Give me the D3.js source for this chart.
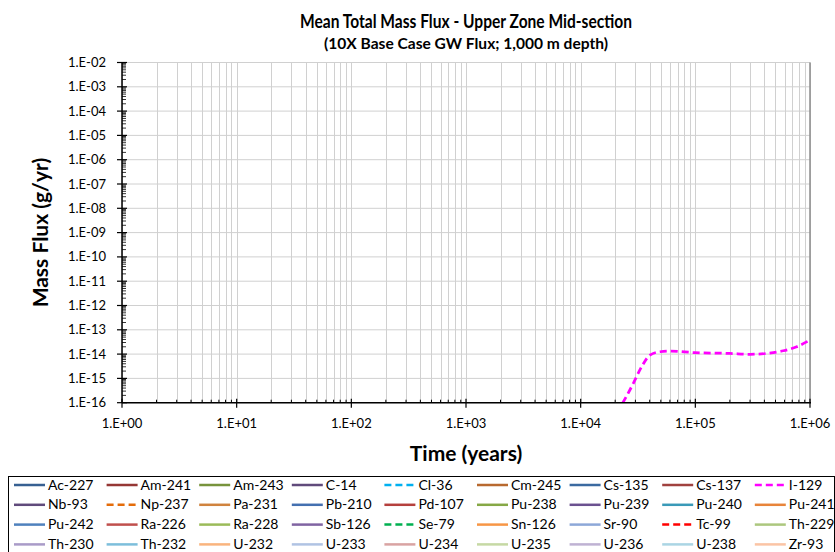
<!DOCTYPE html>
<html>
<head>
<meta charset="utf-8">
<script src="https://cdn.jsdelivr.net/npm/d3@7"></script>
<style>
  body { margin: 0; background: #fff; }
  svg { display: block; font-family: Lato, "Open Sans", sans-serif; }
</style>
</head>
<body>
<script>
(function(){
'use strict';

// ---- data ----
var isotopes = ['Ac-227', 'Am-241', 'Am-243', 'C-14', 'Cl-36', 'Cm-245', 'Cs-135', 'Cs-137', 'I-129',
                'Nb-93', 'Np-237', 'Pa-231', 'Pb-210', 'Pd-107', 'Pu-238', 'Pu-239', 'Pu-240', 'Pu-241',
                'Pu-242', 'Ra-226', 'Ra-228', 'Sb-126', 'Se-79', 'Sn-126', 'Sr-90', 'Tc-99', 'Th-229',
                'Th-230', 'Th-232', 'U-232', 'U-233', 'U-234', 'U-235', 'U-236', 'U-238', 'Zr-93'];

var colors = ['#376092', '#953735', '#77933C', '#604A7B', '#00B0F0', '#B8692F', '#3B6AA0', '#A0413F', '#FF00FF',
              '#604A7B', '#E46C0A', '#D0833E', '#4470B0', '#B5403D', '#86A846', '#6B5190', '#3A9AB8', '#E8843A',
              '#4F81BD', '#C0504D', '#9BBB59', '#8064A2', '#00B050', '#F79646', '#8DA8D8', '#FF0000', '#ACC77E',
              '#A99BC8', '#7DBEDB', '#F9B47E', '#B0C3E3', '#D9A3A2', '#C6D9A4', '#BFB2D3', '#ABD5E4', '#FBC4A5'];

var dashedSeries = ['Cl-36', 'I-129', 'Np-237', 'Se-79', 'Tc-99'];

// I-129 is the only series above 1E-16 in the plotted range
var i129Time = [23200, 25500, 28800, 34000, 40200, 49200, 60100, 99300, 200000, 300000, 419000, 585000, 766000, 1000000];
var i129Flux = [0.95e-16, 2.1e-16, 6.3e-16, 3.0e-15, 9.1e-15, 1.25e-14, 1.34e-14, 1.15e-14, 1.07e-14, 9.8e-15, 1.07e-14, 1.37e-14, 2.0e-14, 3.8e-14];

var xDecades = [1e0, 1e1, 1e2, 1e3, 1e4, 1e5, 1e6];
var yDecades = [1e-16, 1e-15, 1e-14, 1e-13, 1e-12, 1e-11, 1e-10, 1e-9, 1e-8, 1e-7, 1e-6, 1e-5, 1e-4, 1e-3, 1e-2];

// ---- layout ----
var width = 835;
var height = 552;
var left = 122, right = 810, top = 62.5, bottom = 402.7;

var svg = d3.select('body').append('svg')
            .attr('width', width)
            .attr('height', height);

var x = d3.scaleLog().domain([1, 1e6]).range([left, right]);
var y = d3.scaleLog().domain([1e-16, 1e-2]).range([bottom, top]);

function fmt(v){
	var e = Math.round(Math.log10(v));
	var s = Math.abs(e) < 10 ? '0' + Math.abs(e) : '' + Math.abs(e);
	return '1.E' + (e < 0 ? '-' : '+') + s;
}

var minors = [];
for(var n=0; n<6; n++){
	for(var k=2; k<10; k++){
		minors.push(k * Math.pow(10, n));
	}
}
var yMinors = [];
for(var m=-16; m<-2; m++){
	for(var q=2; q<10; q++){
		yMinors.push(q * Math.pow(10, m));
	}
}

// gridlines
var grid = svg.append('g').attr('stroke', '#D0D0D0').attr('stroke-width', 1);
grid.selectAll('line.v')
	.data(xDecades.concat(minors))
	.enter().append('line')
	.attr('x1', function(d){ return Math.round(x(d)) + 0.5; })
	.attr('x2', function(d){ return Math.round(x(d)) + 0.5; })
	.attr('y1', top).attr('y2', bottom);
grid.selectAll('line.h')
	.data(yDecades)
	.enter().append('line')
	.attr('x1', left).attr('x2', right)
	.attr('y1', function(d){ return y(d); })
	.attr('y2', function(d){ return y(d); });

svg.append('line')
	.attr('x1', right).attr('x2', right)
	.attr('y1', top).attr('y2', bottom)
	.attr('stroke', '#8C8C8C').attr('stroke-width', 1.5);

// series
svg.append('clipPath').attr('id', 'plot')
	.append('rect').attr('x', left).attr('y', top)
	.attr('width', right - left).attr('height', bottom - top);

var line = d3.line()
	.x(function(d){ return x(d[0]); })
	.y(function(d){ return y(d[1]); })
	.curve(d3.curveMonotoneX);

svg.append('path')
	.datum(d3.zip(i129Time, i129Flux))
	.attr('clip-path', 'url(#plot)')
	.attr('fill', 'none')
	.attr('stroke', colors[isotopes.indexOf('I-129')])
	.attr('stroke-width', 2.75)
	.attr('stroke-dasharray', '7,4')
	.attr('d', line);

// axes
var ax = svg.append('g').attr('stroke', '#000');
ax.append('line').attr('x1', left).attr('x2', right + 1).attr('y1', bottom).attr('y2', bottom).attr('stroke-width', 1.5);
ax.append('line').attr('x1', left).attr('x2', left).attr('y1', top).attr('y2', bottom).attr('stroke-width', 1.5);

ax.selectAll('line.xt')
	.data(xDecades)
	.enter().append('line')
	.attr('x1', function(d){ return x(d); })
	.attr('x2', function(d){ return x(d); })
	.attr('y1', bottom - 4).attr('y2', bottom + 5)
	.attr('stroke-width', 1.2);
ax.selectAll('line.xm')
	.data(minors)
	.enter().append('line')
	.attr('x1', function(d){ return x(d); })
	.attr('x2', function(d){ return x(d); })
	.attr('y1', bottom - 3).attr('y2', bottom)
	.attr('stroke-width', 1);
ax.selectAll('line.yt')
	.data(yDecades)
	.enter().append('line')
	.attr('x1', left - 5).attr('x2', left + 5)
	.attr('y1', function(d){ return y(d); })
	.attr('y2', function(d){ return y(d); })
	.attr('stroke-width', 1.2);
ax.selectAll('line.ym')
	.data(yMinors)
	.enter().append('line')
	.attr('x1', left).attr('x2', left + 4)
	.attr('y1', function(d){ return y(d); })
	.attr('y2', function(d){ return y(d); })
	.attr('stroke-width', 0.8);

svg.append('g').selectAll('text')
	.data(yDecades)
	.enter().append('text')
	.attr('x', 106)
	.attr('y', function(d){ return y(d) + 4.5; })
	.attr('text-anchor', 'end')
	.attr('font-size', 13)
	.attr('fill', '#000')
	.text(fmt);

svg.append('g').selectAll('text')
	.data(xDecades)
	.enter().append('text')
	.attr('x', function(d){ return x(d); })
	.attr('y', 428)
	.attr('text-anchor', 'middle')
	.attr('font-size', 13)
	.attr('fill', '#000')
	.text(fmt);

// titles
var cx = (left + right) / 2;
svg.append('text').attr('x', cx).attr('y', 28).attr('text-anchor', 'middle')
	.attr('font-size', 18.5).attr('font-weight', 'bold')
	.attr('textLength', 332).attr('lengthAdjust', 'spacingAndGlyphs')
	.text('Mean Total Mass Flux - Upper Zone Mid-section');
svg.append('text').attr('x', cx).attr('y', 49).attr('text-anchor', 'middle')
	.attr('font-size', 15.5).attr('font-weight', 'bold')
	.attr('textLength', 284).attr('lengthAdjust', 'spacingAndGlyphs')
	.text('(10X Base Case GW Flux; 1,000 m depth)');
svg.append('text').attr('x', cx).attr('y', 461).attr('text-anchor', 'middle')
	.attr('font-size', 21).attr('font-weight', 'bold')
	.text('Time (years)');
svg.append('text')
	.attr('transform', 'translate(48,' + ((top + bottom) / 2) + ') rotate(-90)')
	.attr('text-anchor', 'middle')
	.attr('font-size', 21).attr('font-weight', 'bold')
	.text('Mass Flux (g/yr)');

// legend
svg.append('rect')
	.attr('x', 8.5).attr('y', 476.5)
	.attr('width', 826).attr('height', 90)
	.attr('fill', 'none').attr('stroke', '#000').attr('stroke-width', 1);

var items = svg.append('g').selectAll('g')
	.data(isotopes)
	.enter().append('g')
	.attr('transform', function(d, i){
		return 'translate(' + (14 + (i % 9) * 92.6) + ',' + (485 + Math.floor(i / 9) * 19.8) + ')';
	});

items.append('line')
	.attr('x1', 0).attr('x2', 31)
	.attr('stroke', function(d, i){ return colors[i]; })
	.attr('stroke-width', 2.5)
	.attr('stroke-dasharray', function(d){ return dashedSeries.indexOf(d) >= 0 ? '7,4' : null; });

items.append('text')
	.attr('x', 34).attr('y', 4.5)
	.attr('font-size', 14)
	.attr('fill', '#000')
	.text(function(d){ return d; });

})();
</script>
</body>
</html>
